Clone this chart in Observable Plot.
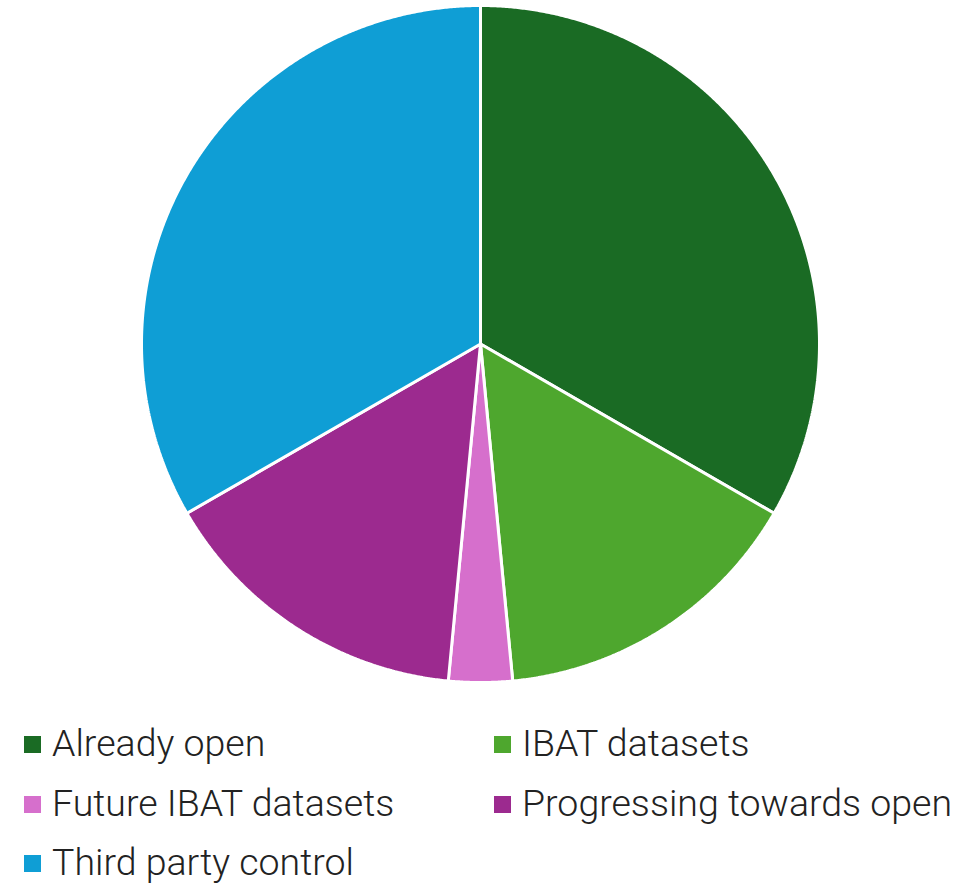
<!DOCTYPE html>
<html>
<head>
<meta charset="utf-8">
<script src="https://cdn.jsdelivr.net/npm/d3@7"></script>
<script src="https://cdn.jsdelivr.net/npm/@observablehq/plot@0.6"></script>
<style>
  body { margin: 0; background: #fff; font-family: Roboto, "Noto Sans", sans-serif; }
  #chart { width: 980px; }
  .legend { position: relative; width: 980px; height: 184px; }
  .item { position: absolute; display: flex; align-items: center; font-size: 37.5px; font-weight: 300; color: #222; white-space: nowrap; line-height: 1; }
  .sw { width: 17px; height: 17px; margin-right: 11px; flex: none; }
</style>
</head>
<body>
<div id="chart"></div>
<div class="legend" id="legend"></div>
<script>
const categories = ["Already open", "IBAT datasets", "Future IBAT datasets", "Progressing towards open", "Third party control"];
const values = [11, 5, 1, 5, 11];
const colors = ["#1a6b24", "#4ea72e", "#d66fcc", "#9c2a8f", "#0f9ed5"];

const data = categories.map((c, i) => ({category: c, value: values[i]}));
const arcs = d3.pie().sort(null).value(d => d.value)(data);

// polygon outline of each slice, in unit coordinates
const pts = [];
arcs.forEach(a => {
  const key = a.data.category;
  pts.push({key, x: 0, y: 0});
  const n = Math.max(2, Math.ceil((a.endAngle - a.startAngle) / 0.005));
  for (let k = 0; k <= n; k++) {
    const t = a.startAngle + (a.endAngle - a.startAngle) * k / n;
    pts.push({key, x: Math.sin(t), y: Math.cos(t)});
  }
  pts.push({key, x: 0, y: 0});
});

const chart = Plot.plot({
  width: 980,
  height: 700,
  marginLeft: 141,
  marginRight: 161,
  marginTop: 5,
  marginBottom: 18,
  x: {domain: [-1, 1], axis: null},
  y: {domain: [-1, 1], axis: null},
  color: {domain: categories, range: colors},
  marks: [
    Plot.line(pts, {x: "x", y: "y", z: "key", fill: "key", stroke: "white", strokeWidth: 3, strokeLinejoin: "miter", curve: "linear"})
  ]
});
document.getElementById("chart").append(chart);

const legend = document.getElementById("legend");
const pos = [[24, 44], [494, 44], [24, 104], [494, 104], [24, 163]];
categories.forEach((c, i) => {
  const el = document.createElement("div");
  el.className = "item";
  el.style.left = pos[i][0] + "px";
  el.style.top = (pos[i][1] - 20) + "px";
  el.style.height = "40px";
  const sw = document.createElement("span");
  sw.className = "sw";
  sw.style.background = colors[i];
  el.append(sw, document.createTextNode(c));
  legend.append(el);
});
</script>
</body>
</html>
